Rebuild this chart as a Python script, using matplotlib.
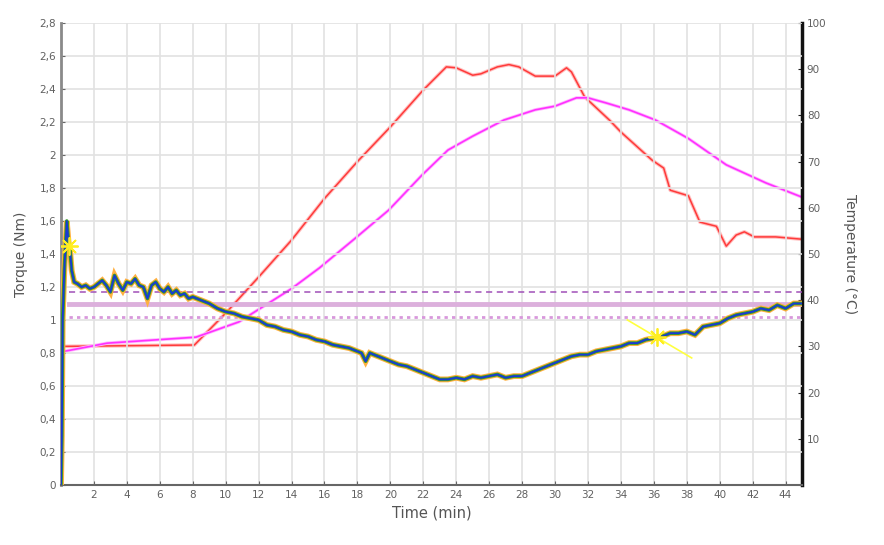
import numpy as np
import matplotlib
matplotlib.use("Agg")
import matplotlib.pyplot as plt

# torque curve (min, Nm)
torque_t = [0.0, 0.05, 0.1, 0.2, 0.35, 0.45, 0.55, 0.65, 0.8, 1.0, 1.25, 1.5, 1.75,
            2.0, 2.25, 2.5, 2.75, 3.0, 3.25, 3.5, 3.75, 4.0, 4.25, 4.5, 4.75,
            5.0, 5.25, 5.5, 5.75, 6.0, 6.25, 6.5, 6.75, 7.0, 7.25, 7.5, 7.75,
            8.0, 8.5, 9.0, 9.5, 10.0, 10.5, 11.0, 11.5, 12.0, 12.5, 13.0, 13.5,
            14.0, 14.5, 15.0, 15.5, 16.0, 16.5, 17.0, 17.5, 18.0, 18.25, 18.5, 18.75,
            19.0, 19.5, 20.0, 20.5, 21.0, 21.5, 22.0, 22.5, 23.0, 23.5, 24.0, 24.5,
            25.0, 25.5, 26.0, 26.5, 27.0, 27.5, 28.0, 28.5, 29.0, 29.5, 30.0, 30.5,
            31.0, 31.5, 32.0, 32.5, 33.0, 33.5, 34.0, 34.5, 35.0, 35.5, 36.0, 36.5,
            37.0, 37.5, 38.0, 38.5, 39.0, 39.5, 40.0, 40.5, 41.0, 41.5, 42.0, 42.5,
            43.0, 43.5, 44.0, 44.5, 45.0]
torque = [0.0, 0.3, 1.0, 1.3, 1.6, 1.48, 1.42, 1.30, 1.23, 1.22, 1.20, 1.21, 1.19,
          1.20, 1.22, 1.24, 1.21, 1.17, 1.27, 1.22, 1.18, 1.23, 1.22, 1.25, 1.21,
          1.20, 1.13, 1.21, 1.23, 1.19, 1.17, 1.20, 1.16, 1.18, 1.15, 1.16, 1.13,
          1.14, 1.12, 1.10, 1.07, 1.05, 1.04, 1.02, 1.01, 1.00, 0.97, 0.96, 0.94,
          0.93, 0.91, 0.90, 0.88, 0.87, 0.85, 0.84, 0.83, 0.81, 0.80, 0.75, 0.80,
          0.79, 0.77, 0.75, 0.73, 0.72, 0.70, 0.68, 0.66, 0.64, 0.64, 0.65, 0.64,
          0.66, 0.65, 0.66, 0.67, 0.65, 0.66, 0.66, 0.68, 0.70, 0.72, 0.74, 0.76,
          0.78, 0.79, 0.79, 0.81, 0.82, 0.83, 0.84, 0.86, 0.86, 0.88, 0.89, 0.90,
          0.92, 0.92, 0.93, 0.91, 0.96, 0.97, 0.98, 1.01, 1.03, 1.04, 1.05, 1.07,
          1.06, 1.09, 1.07, 1.10, 1.10]

# temperature curves (min, degC)
red_t = [0, 8.1, 10, 12, 14, 16, 18, 20, 22, 23.4, 24, 25, 25.5, 26.5, 27.2, 27.8,
         28.8, 30, 30.7, 31, 31.8, 33.3, 34, 35.9, 36.6, 37, 38.1, 38.8, 39.8, 40.4,
         41, 41.5, 42.1, 43.4, 45]
red_temp = [30, 30.3, 37.2, 45, 53, 62, 70, 77.5, 85.5, 90.5, 90.3, 88.7, 89, 90.5, 91,
            90.5, 88.5, 88.5, 90.3, 89.4, 84, 79, 76.4, 70.3, 68.6, 63.8, 62.6, 56.9,
            56, 51.7, 54.1, 54.8, 53.7, 53.7, 53.2]
mag_t = [0, 2.8, 8.2, 10.8, 12, 14, 15.7, 17.9, 19.9, 21.9, 23.5, 25, 26.9, 28.8, 30,
         31.3, 32, 33.1, 34.5, 36.1, 38.1, 40.4, 42.8, 45]
mag_temp = [28.8, 30.7, 32, 35.3, 38, 42.5, 47, 53.5, 59.5, 67, 72.5, 75.5, 79, 81.2, 82,
            83.8, 83.8, 82.7, 81.2, 79, 75, 69.3, 65.4, 62.3]

# reference torque levels
ref_upper = 1.17
ref_mid = 1.10
ref_lower = 1.02
ref_start = 0.5

# markers
star_t = [0.5, 36.2]
star_torque = [1.45, 0.90]
tangent_t = [34.4, 38.3]
tangent_torque = [1.0, 0.77]

x_ticks = list(range(2, 45, 2))
y_ticks = [0, 0.2, 0.4, 0.6, 0.8, 1, 1.2, 1.4, 1.6, 1.8, 2, 2.2, 2.4, 2.6, 2.8]
y_labels = ["0", "0,2", "0,4", "0,6", "0,8", "1", "1,2", "1,4", "1,6", "1,8",
            "2", "2,2", "2,4", "2,6", "2,8"]
temp_ticks = [10, 20, 30, 40, 50, 60, 70, 80, 90, 100]

fig = plt.figure(figsize=(8.84, 5.45), dpi=100)
ax = fig.add_axes([61 / 884, 60 / 545, 741 / 884, 462 / 545])
ax2 = ax.twinx()

ax.set_xlim(0, 45)
ax.set_ylim(0, 2.8)
ax2.set_ylim(0, 100)

# grid
ax.set_xticks(x_ticks)
ax.set_yticks(y_ticks)
ax.set_yticklabels(y_labels)
ax.grid(True, color="#e2e2e2", lw=1.2)
ax.set_axisbelow(True)

# reference lines
ax.plot([ref_start, 45], [ref_mid, ref_mid], color="#dcb0dc", lw=3.5, zorder=2)
ax.plot([ref_start, 45], [ref_upper, ref_upper], color="#a050b8", lw=1.1,
        ls=(0, (4, 3)), zorder=2)
ax.plot([ref_start, 45], [ref_lower, ref_lower], color="#d898dc", lw=2,
        ls=(0, (1.2, 1.5)), zorder=2)

# temperatures
ax2.plot(red_t, red_temp, color="#ffc0c0", lw=2.6)
ax2.plot(red_t, red_temp, color="#ff3a3a", lw=1.1)
ax2.plot(mag_t, mag_temp, color="#ffb8ff", lw=2.4)
ax2.plot(mag_t, mag_temp, color="#ff30ff", lw=1.2)

# torque with halo
ax.plot(torque_t, torque, color="#ffb040", lw=4.2, zorder=3, solid_joinstyle="miter")
ax.plot(torque_t, torque, color="#3a9a28", lw=2.6, zorder=3)
ax.plot(torque_t, torque, color="#1838d8", lw=1.3, zorder=3)
ax.plot(tangent_t, tangent_torque, color="#ffff40", lw=1.2, zorder=4)
ax.plot(star_t, star_torque, ls="none", marker=(8, 2, 0), ms=13,
        mec="#ffee20", mew=1.3, zorder=4)

# move torque axis on top of temperature axis
ax.set_zorder(ax2.get_zorder() + 1)
ax.patch.set_visible(False)

# styling
for a in (ax, ax2):
    a.spines["top"].set_visible(False)
ax.spines["left"].set_color("#8a8a8a")
ax.spines["left"].set_linewidth(2)
ax.spines["bottom"].set_color("#666666")
ax.spines["bottom"].set_linewidth(1.5)
ax.spines["right"].set_visible(False)
ax2.spines["left"].set_visible(False)
ax2.spines["bottom"].set_visible(False)
ax2.spines["right"].set_color("#111111")
ax2.spines["right"].set_linewidth(2.5)

ax.tick_params(direction="in", length=3, labelsize=7.5, labelcolor="#606060",
               color="#666666")
ax2.set_yticks(temp_ticks)
ax2.tick_params(direction="in", length=3, labelsize=7.5, labelcolor="#606060",
                color="#222222")

ax.set_xlabel("Time (min)", fontsize=10.5, color="#555555", labelpad=4)
ax.set_ylabel("Torque (Nm)", fontsize=10, color="#555555", labelpad=8)
ax2.set_ylabel("Temperature (°C)", fontsize=10, color="#555555",
               rotation=270, labelpad=22)

fig.savefig("out.png", dpi=100)
